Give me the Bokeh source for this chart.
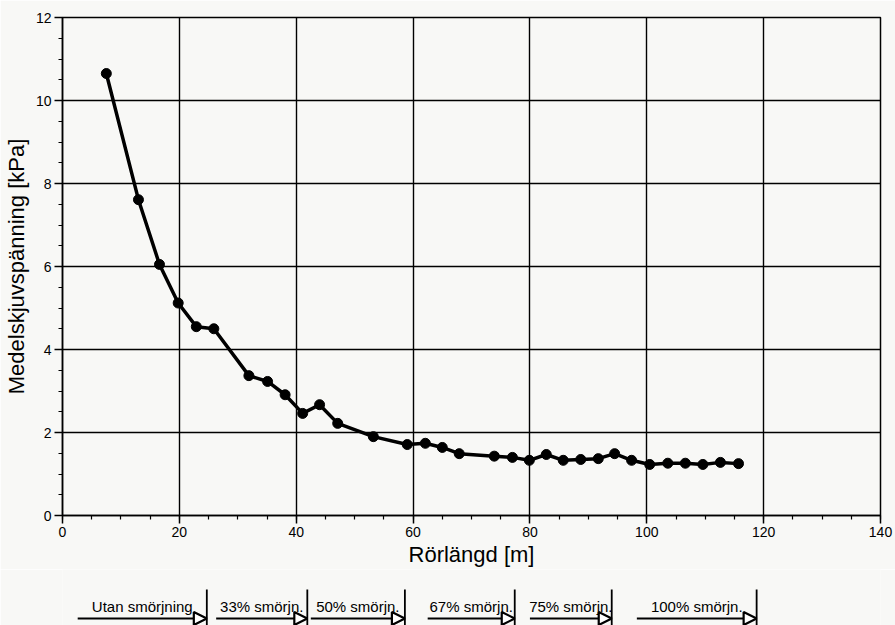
from bokeh.plotting import figure
from bokeh.layouts import column
from bokeh.models import Range1d, SingleIntervalTicker, Arrow, NormalHead, ColumnDataSource
from bokeh.core.properties import value
from bokeh.embed import file_html
from bokeh.resources import INLINE

# Pipe length [m] and mean shear stress [kPa]
pipe_length = [7.5, 13.0, 16.6, 19.8, 22.9, 25.9, 31.9, 35.1, 38.1, 41.1, 44.0, 47.1,
               53.2, 59.0, 62.1, 65.0, 67.9, 73.9, 77.0, 79.9, 82.8, 85.7, 88.7, 91.7,
               94.5, 97.4, 100.5, 103.6, 106.6, 109.6, 112.6, 115.7]
shear_stress = [10.65, 7.61, 6.05, 5.12, 4.55, 4.50, 3.37, 3.23, 2.91, 2.46, 2.67, 2.22,
                1.90, 1.71, 1.74, 1.64, 1.49, 1.43, 1.40, 1.33, 1.47, 1.33, 1.35, 1.37,
                1.49, 1.33, 1.23, 1.26, 1.26, 1.23, 1.28, 1.25]

# Lubrication phases along the pipe
phase_labels = ["Utan smörjning", "33% smörjn.", "50% smörjn.", "67% smörjn.",
                "75% smörjn.", "100% smörjn."]
phase_start = [2.6, 26.3, 42.5, 62.5, 80.0, 98.3]
phase_end = [24.7, 41.9, 58.6, 77.4, 94.0, 118.8]

x_ticks_interval = 20
y_ticks_interval = 2

FONT = "Liberation Sans"
BG = "#f8f8f6"

p = figure(width=895, height=569, x_range=Range1d(0, 140), y_range=Range1d(0, 12),
           output_backend="svg", toolbar_location=None,
           min_border_left=61, min_border_right=15, min_border_top=17, min_border_bottom=50,
           x_axis_label="Rörlängd [m]", y_axis_label="Medelskjuvspänning [kPa]")
p.background_fill_color = BG
p.border_fill_color = BG
p.outline_line_color = "black"
p.outline_line_width = 1.5

p.xaxis.ticker = SingleIntervalTicker(interval=x_ticks_interval, num_minor_ticks=4)
p.yaxis.ticker = SingleIntervalTicker(interval=y_ticks_interval, num_minor_ticks=4)

for ax in (p.xaxis[0], p.yaxis[0]):
    ax.axis_line_color = "black"
    ax.axis_line_width = 1.5
    ax.major_tick_line_color = "black"
    ax.major_tick_line_width = 1.5
    ax.major_tick_out = 8
    ax.major_tick_in = 0
    ax.minor_tick_line_color = "black"
    ax.minor_tick_line_width = 1.2
    ax.minor_tick_out = 4
    ax.minor_tick_in = 0
    ax.major_label_text_font = FONT
    ax.major_label_text_font_size = "14px"
    ax.major_label_text_color = "black"
    ax.axis_label_text_font = FONT
    ax.axis_label_text_font_size = "22px"
    ax.axis_label_text_font_style = "normal"
    ax.axis_label_text_color = "black"
p.xaxis.major_label_standoff = 3
p.yaxis.major_label_standoff = 3
p.xaxis.axis_label_standoff = 2
p.yaxis.axis_label_standoff = 4

p.grid.grid_line_color = "black"
p.grid.grid_line_width = 1.4
p.grid.grid_line_alpha = 1.0

src = ColumnDataSource(dict(x=pipe_length, y=shear_stress))
p.line("x", "y", source=src, line_color="black", line_width=3.5)
p.scatter("x", "y", source=src, size=10, fill_color="black", line_color="black")

# Strip below the chart with the lubrication phases, sharing the x scale
p2 = figure(width=895, height=56, x_range=p.x_range, y_range=Range1d(0, 56),
            output_backend="svg", toolbar_location=None,
            min_border_left=61, min_border_right=15, min_border_top=0, min_border_bottom=0,
            x_axis_location=None, y_axis_location=None)
p2.background_fill_color = BG
p2.border_fill_color = BG
p2.outline_line_color = None
p2.grid.visible = False

phase_mid = [(s + e) / 2 for s, e in zip(phase_start, phase_end)]
psrc = ColumnDataSource(dict(xs=phase_start, xe=phase_end, xm=phase_mid, label=phase_labels,
                             ya=[7] * len(phase_labels), yb=[0] * len(phase_labels),
                             yt=[36] * len(phase_labels), yl=[19] * len(phase_labels)))
p2.add_layout(Arrow(x_start="xs", y_start="ya", x_end="xe", y_end="ya", source=psrc,
                    line_color="black", line_width=1.8,
                    end=NormalHead(size=13, fill_color="white", line_color="black", line_width=2.2)))
p2.segment(x0="xe", y0="yb", x1="xe", y1="yt", source=psrc, line_color="black", line_width=1.8)
p2.text(x="xm", y="yl", text="label", source=psrc, text_align="center",
        text_baseline="alphabetic", text_font=value(FONT), text_font_size="15px",
        text_color="black")

layout = column(p, p2, spacing=0)
open("out.html", "w").write(file_html(layout, INLINE))
